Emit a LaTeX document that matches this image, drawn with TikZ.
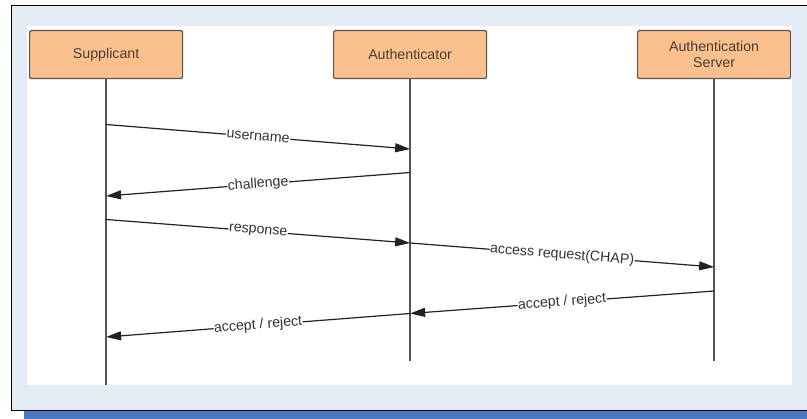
\documentclass[tikz,border=0pt]{standalone}
\usepackage{fontspec}
\setmainfont{Liberation Sans}
\usetikzlibrary{arrows.meta}
\definecolor{framebg}{HTML}{E4EBF5}
\definecolor{barblue}{HTML}{4A78C2}
\definecolor{boxfill}{HTML}{FAC18F}
\definecolor{boxline}{HTML}{5A5550}
\definecolor{boxtext}{HTML}{4A3C30}
\definecolor{msgline}{HTML}{222222}
\definecolor{lifeline}{HTML}{555555}
\tikzset{
  actor/.style={draw=boxline, fill=boxfill, line width=1.2pt, rounded corners=1.5pt,
    minimum width=153pt, minimum height=48pt, inner sep=0pt, align=center,
    text=boxtext, font=\fontsize{14.2}{15.5}\selectfont, anchor=north west},
  life/.style={draw=lifeline, line width=1.3pt},
  msg/.style={draw=msgline, line width=1.2pt, -{Triangle[length=15pt,width=9pt]}},
  lbl/.style={midway, sloped, fill=white, inner sep=0.5pt, text=black!80,
    font=\fontsize{14.2}{15.5}\selectfont}
}
\begin{document}
\begin{tikzpicture}[x=1pt,y=-1pt]
\useasboundingbox (0,0) rectangle (807,419);
% frame
\fill[framebg] (11,5) rectangle (807,410);
\draw[black, line width=0.9pt] (807,5) -- (11,5) -- (11,410) -- (807,410);
\fill[white] (27,26) rectangle (792,385);
\fill[barblue] (24,411) rectangle (807,419);
% actors
\node[actor] (sup) at (29,30) {Supplicant};
\node[actor] (aut) at (333,30) {Authenticator};
\node[actor] (srv) at (637,30) {Authentication\\Server};
% lifelines
\coordinate (supend) at (sup.south |- 0,385);
\coordinate (autend) at (aut.south |- 0,361);
\coordinate (srvend) at (srv.south |- 0,361);
\draw[life] (sup.south) -- (supend);
\draw[life] (aut.south) -- (autend);
\draw[life] (srv.south) -- (srvend);
% message points
\coordinate (s1) at (sup.south |- 0,124.5);
\coordinate (a1) at (aut.south |- 0,149);
\coordinate (a2) at (aut.south |- 0,172.5);
\coordinate (s2) at (sup.south |- 0,196);
\coordinate (s3) at (sup.south |- 0,219.5);
\coordinate (a3) at (aut.south |- 0,243);
\coordinate (v1) at (srv.south |- 0,267);
\coordinate (v2) at (srv.south |- 0,291);
\coordinate (a4) at (aut.south |- 0,313.5);
\coordinate (s4) at (sup.south |- 0,337);
% messages
\draw[msg] (s1) -- node[lbl] {username} (a1);
\draw[msg] (a2) -- node[lbl] {challenge} (s2);
\draw[msg] (s3) -- node[lbl] {response} (a3);
\draw[msg] (a3) -- node[lbl] {access request(CHAP)} (v1);
\draw[msg] (v2) -- node[lbl] {accept / reject} (a4);
\draw[msg] (a4) -- node[lbl] {accept / reject} (s4);
\end{tikzpicture}
\end{document}
